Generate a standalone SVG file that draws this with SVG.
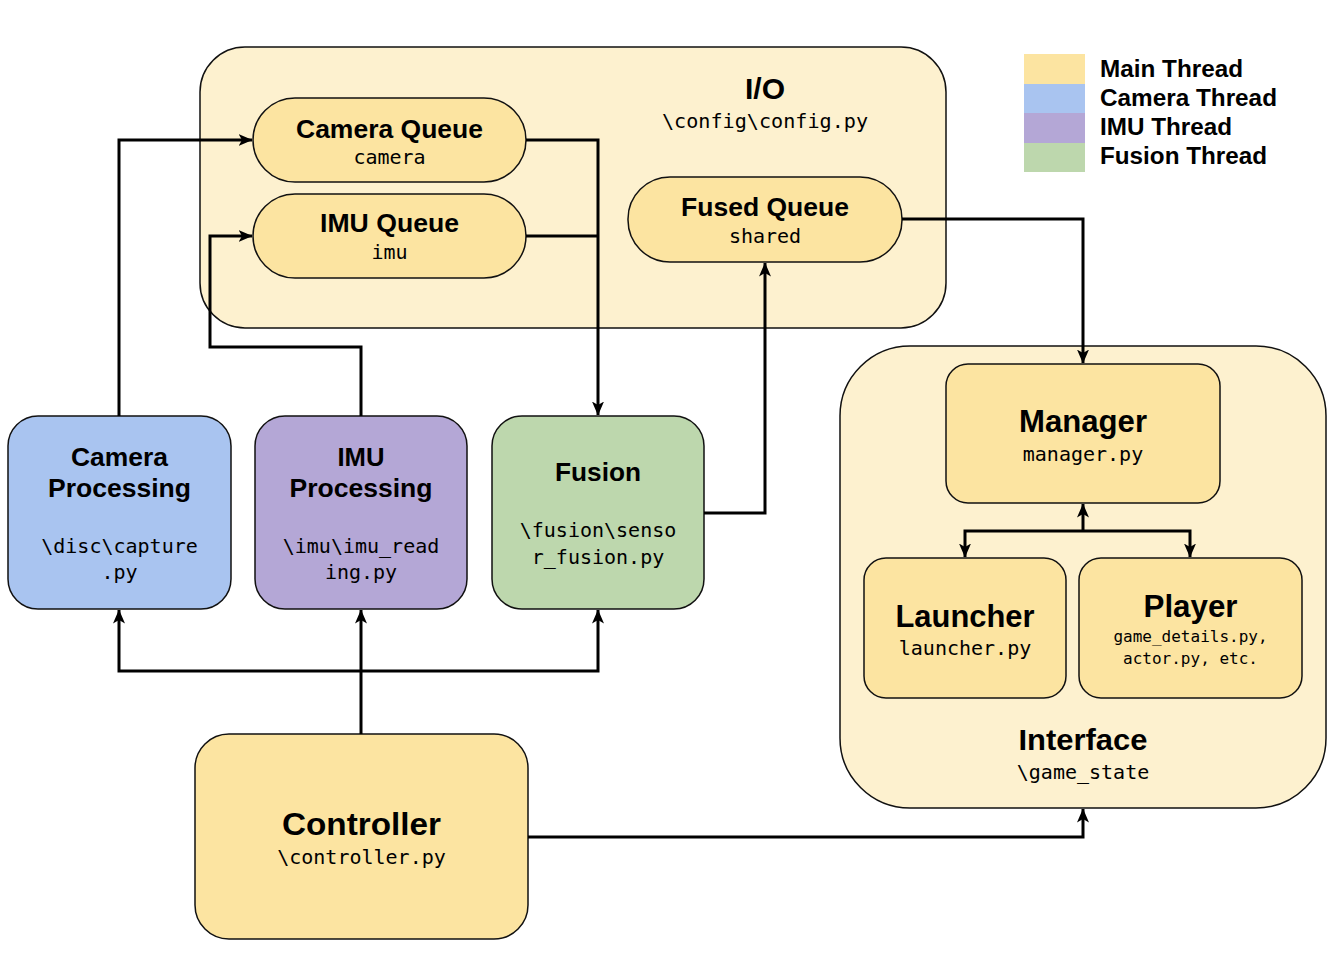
<svg xmlns="http://www.w3.org/2000/svg" width="1342" height="962" viewBox="0 0 1342 962">
<style>
.box{stroke:#111;stroke-width:1.5}
.main{fill:#fce4a1}
.cont{fill:#fdf1cf}
.cam{fill:#a9c4f0}
.imu{fill:#b4a7d6}
.fus{fill:#bdd7ad}
.t{font-family:"Liberation Sans",Arial,sans-serif;font-weight:bold;fill:#000;text-anchor:middle}
.m{font-family:"DejaVu Sans Mono","Liberation Mono",monospace;fill:#000;text-anchor:middle;font-size:20px}
.s{font-size:16px}
.lg{font-family:"Liberation Sans",Arial,sans-serif;font-weight:bold;fill:#000;font-size:23px}
.c{fill:none;stroke:#000;stroke-width:3;stroke-linejoin:miter}
</style>
<defs>
<marker id="ar" viewBox="0 0 14 12" refX="13.5" refY="6" markerWidth="14" markerHeight="12" markerUnits="userSpaceOnUse" orient="auto">
<path d="M0,0 L14,6 L0,12 L3.5,6 Z" fill="#000"/>
</marker>
</defs>
<rect width="1342" height="962" fill="#fff"/>

<g id="legend">
<rect x="1024" y="54" width="61" height="30" fill="#fce4a1"/>
<rect x="1024" y="84" width="61" height="29" fill="#a9c4f0"/>
<rect x="1024" y="113" width="61" height="30" fill="#b4a7d6"/>
<rect x="1024" y="143" width="61" height="29" fill="#bdd7ad"/>
<text class="lg" x="1100" y="77" textLength="143" lengthAdjust="spacingAndGlyphs">Main Thread</text>
<text class="lg" x="1100" y="106" textLength="177" lengthAdjust="spacingAndGlyphs">Camera Thread</text>
<text class="lg" x="1100" y="135" textLength="132" lengthAdjust="spacingAndGlyphs">IMU Thread</text>
<text class="lg" x="1100" y="164" textLength="167" lengthAdjust="spacingAndGlyphs">Fusion Thread</text>
</g>

<g id="io">
<rect class="box cont" x="200" y="47" width="746" height="281" rx="45"/>
<text class="t" x="765" y="99" font-size="30" textLength="40" lengthAdjust="spacingAndGlyphs">I/O</text>
<text class="m" x="765" y="128" textLength="206" lengthAdjust="spacingAndGlyphs">\config\config.py</text>
</g>

<g id="camera-queue">
<rect class="box main" x="253" y="98" width="273" height="84" rx="42"/>
<text class="t" x="389.5" y="138" font-size="26" textLength="187" lengthAdjust="spacingAndGlyphs">Camera Queue</text>
<text class="m" x="389.5" y="164">camera</text>
</g>

<g id="imu-queue">
<rect class="box main" x="253" y="194" width="273" height="84" rx="42"/>
<text class="t" x="389.5" y="232" font-size="26" textLength="139" lengthAdjust="spacingAndGlyphs">IMU Queue</text>
<text class="m" x="389.5" y="259">imu</text>
</g>

<g id="fused-queue">
<rect class="box main" x="628" y="177" width="274" height="85" rx="42"/>
<text class="t" x="765" y="216" font-size="26" textLength="168" lengthAdjust="spacingAndGlyphs">Fused Queue</text>
<text class="m" x="765" y="243">shared</text>
</g>

<g id="camera-processing">
<rect class="box cam" x="8" y="416" width="223" height="193" rx="30"/>
<text class="t" x="119.5" y="466" font-size="26" textLength="97" lengthAdjust="spacingAndGlyphs">Camera</text>
<text class="t" x="119.5" y="497" font-size="26" textLength="143" lengthAdjust="spacingAndGlyphs">Processing</text>
<text class="m" x="119.5" y="553">\disc\capture</text>
<text class="m" x="119.5" y="579">.py</text>
</g>

<g id="imu-processing">
<rect class="box imu" x="255" y="416" width="212" height="193" rx="30"/>
<text class="t" x="361" y="466" font-size="26" textLength="47" lengthAdjust="spacingAndGlyphs">IMU</text>
<text class="t" x="361" y="497" font-size="26" textLength="143" lengthAdjust="spacingAndGlyphs">Processing</text>
<text class="m" x="361" y="553">\imu\imu_read</text>
<text class="m" x="361" y="579">ing.py</text>
</g>

<g id="fusion">
<rect class="box fus" x="492" y="416" width="212" height="193" rx="30"/>
<text class="t" x="598" y="481" font-size="26" textLength="86" lengthAdjust="spacingAndGlyphs">Fusion</text>
<text class="m" x="598" y="537">\fusion\senso</text>
<text class="m" x="598" y="564">r_fusion.py</text>
</g>

<g id="controller">
<rect class="box main" x="195" y="734" width="333" height="205" rx="34"/>
<text class="t" x="361.5" y="835" font-size="32" textLength="159" lengthAdjust="spacingAndGlyphs">Controller</text>
<text class="m" x="361.5" y="864">\controller.py</text>
</g>

<g id="interface">
<rect class="box cont" x="840" y="346" width="486" height="462" rx="70"/>
<text class="t" x="1083" y="750" font-size="30" textLength="129" lengthAdjust="spacingAndGlyphs">Interface</text>
<text class="m" x="1083" y="779">\game_state</text>
</g>

<g id="manager">
<rect class="box main" x="946" y="364" width="274" height="139" rx="22"/>
<text class="t" x="1083" y="432" font-size="31" textLength="128" lengthAdjust="spacingAndGlyphs">Manager</text>
<text class="m" x="1083" y="461">manager.py</text>
</g>

<g id="launcher">
<rect class="box main" x="864" y="558" width="202" height="140" rx="22"/>
<text class="t" x="965" y="627" font-size="31" textLength="139" lengthAdjust="spacingAndGlyphs">Launcher</text>
<text class="m" x="965" y="655">launcher.py</text>
</g>

<g id="player">
<rect class="box main" x="1079" y="558" width="223" height="140" rx="22"/>
<text class="t" x="1190.5" y="617" font-size="31" textLength="94" lengthAdjust="spacingAndGlyphs">Player</text>
<text class="m s" x="1190.5" y="642">game_details.py,</text>
<text class="m s" x="1190.5" y="664">actor.py, etc.</text>
</g>

<g id="connectors">
<path class="c" d="M119,416 V140 H252" marker-end="url(#ar)"/>
<path class="c" d="M361,416 V347 H210 V236 H252" marker-end="url(#ar)"/>
<path class="c" d="M526,140 H598 V415" marker-end="url(#ar)"/>
<path class="c" d="M526,236 H598"/>
<path class="c" d="M704,513 H765 V263" marker-end="url(#ar)"/>
<path class="c" d="M902,219 H1083 V363" marker-end="url(#ar)"/>
<path class="c" d="M1083,531 V504" marker-end="url(#ar)"/>
<path class="c" d="M1083,531 H965 V557" marker-end="url(#ar)"/>
<path class="c" d="M1083,531 H1190 V557" marker-end="url(#ar)"/>
<path class="c" d="M361,734 V610" marker-end="url(#ar)"/>
<path class="c" d="M361,671 H119 V610" marker-end="url(#ar)"/>
<path class="c" d="M361,671 H598 V610" marker-end="url(#ar)"/>
<path class="c" d="M528,837 H1083 V809" marker-end="url(#ar)"/>
</g>
</svg>
